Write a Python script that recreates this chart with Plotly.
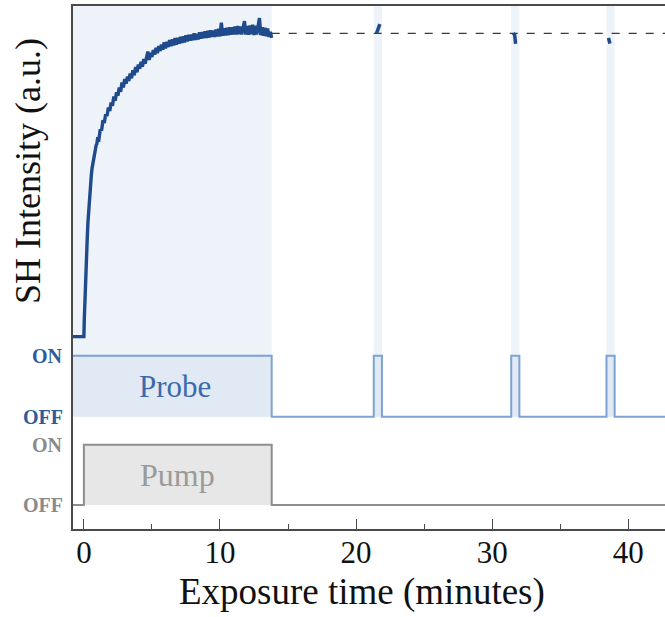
import plotly.graph_objects as go

# ---------------- data ----------------
time_min = [-0.8, -0.4, 0.0, 0.03, 0.06, 0.1, 0.15, 0.2, 0.25, 0.3, 0.35, 0.4, 0.45, 0.5,
            0.55, 0.6, 0.65, 0.7, 0.75, 0.8, 0.85, 0.9, 0.95, 1.0, 1.1, 1.2, 1.3, 1.4, 1.5,
            1.6, 1.7, 1.8, 1.9, 2.0, 2.1, 2.2, 2.3, 2.4, 2.5, 2.6, 2.7, 2.8, 2.9, 3.0, 3.1,
            3.2, 3.3, 3.4, 3.5, 3.6, 3.7, 3.8, 3.9, 4.0, 4.1, 4.2, 4.3, 4.4, 4.5, 4.6, 4.7,
            4.8, 4.9, 5.0, 5.1, 5.2, 5.3, 5.4, 5.5, 5.6, 5.7, 5.8, 5.9, 6.0, 6.1, 6.2, 6.3,
            6.4, 6.5, 6.6, 6.7, 6.8, 6.9, 7.0, 7.1, 7.2, 7.3, 7.4, 7.5, 7.6, 7.7, 7.8, 7.9,
            8.0, 8.1, 8.2, 8.3, 8.4, 8.5, 8.6, 8.7, 8.8, 8.9, 9.0, 9.1, 9.2, 9.3, 9.4, 9.5,
            9.6, 9.7, 9.8, 9.9, 10.0, 10.1, 10.2, 10.3, 10.4, 10.5, 10.6, 10.7, 10.8, 10.9,
            11.0, 11.1, 11.2, 11.3, 11.4, 11.5, 11.6, 11.7, 11.8, 11.9, 12.0, 12.1, 12.2,
            12.3, 12.4, 12.5, 12.6, 12.7, 12.8, 12.9, 13.0, 13.1, 13.2, 13.3, 13.4, 13.5,
            13.6, 13.7, 13.8]
sh_intensity = [0.003, 0.002, 0.003, 0.06, 0.11, 0.16, 0.22, 0.28, 0.33, 0.38, 0.42, 0.46,
                0.49, 0.51, 0.535, 0.556, 0.57, 0.587, 0.596, 0.612, 0.618, 0.632, 0.636,
                0.652, 0.650, 0.684, 0.680, 0.714, 0.705, 0.734, 0.728, 0.756, 0.745, 0.772,
                0.762, 0.792, 0.778, 0.806, 0.795, 0.822, 0.808, 0.838, 0.822, 0.850, 0.834,
                0.858, 0.843, 0.868, 0.852, 0.878, 0.862, 0.889, 0.872, 0.897, 0.884, 0.906,
                0.890, 0.915, 0.900, 0.924, 0.940, 0.912, 0.936, 0.922, 0.945, 0.930, 0.952,
                0.935, 0.958, 0.942, 0.963, 0.946, 0.970, 0.950, 0.972, 0.955, 0.978, 0.958,
                0.980, 0.960, 0.984, 0.963, 0.985, 0.966, 0.988, 0.968, 0.990, 0.970, 0.993,
                0.973, 0.995, 0.976, 0.996, 0.977, 1.000, 0.978, 0.998, 0.980, 1.003, 0.982,
                1.004, 0.984, 1.006, 0.985, 1.008, 0.986, 1.010, 0.988, 1.009, 0.988, 1.012,
                0.990, 1.015, 0.990, 1.035, 0.992, 1.016, 0.993, 1.018, 0.994, 1.020, 0.995,
                1.020, 0.996, 1.022, 0.996, 1.024, 0.997, 1.022, 0.996, 1.026, 1.040, 0.996,
                1.024, 0.995, 1.026, 0.997, 1.028, 0.994, 1.025, 0.996, 1.035, 1.050, 0.994,
                1.020, 0.992, 1.018, 0.990, 1.016, 0.988, 1.005, 0.985]

# short probe-only checks of the SH signal
check1_t = [21.5, 21.6, 21.7, 21.75]
check1_i = [1.000, 1.015, 1.028, 1.030]
check2_t = [31.55, 31.65, 31.7, 31.72]
check2_i = [1.000, 0.995, 0.975, 0.965]
check3_t = [38.55, 38.6, 38.65]
check3_i = [0.985, 0.972, 0.966]

plateau_level = 1.0
plateau_start = 13.8

# beam states (1 = ON, 0 = OFF), step-wise
probe_t = [-0.8, 13.8, 21.3, 21.9, 31.4, 32.0, 38.4, 39.0, 42.7]
probe_state = [1, 0, 1, 0, 1, 0, 1, 0, 0]
pump_t = [-0.8, 0.0, 13.8, 42.7]
pump_state = [0, 1, 0, 0]

x_ticks = [0, 10, 20, 30, 40]
state_labels = ["ON", "OFF"]
state_values = [1, 0]

# ---------------- style ----------------
FONT = "Liberation Serif"
CURVE = "#1f4a8b"
PROBE_LINE = "#7ba3d3"
PROBE_FILL = "#e1e9f4"
BAND = "#eef3f9"
PUMP_LINE = "#8e8e8e"
PUMP_FILL = "#e7e7e7"
AXIS = "#4a4a4a"
X_RANGE = [-0.8, 42.7]

fig = go.Figure()

# pale vertical bands while the probe is on
for i in range(len(probe_t) - 1):
    if probe_state[i] == 1:
        fig.add_shape(type="rect", xref="x", yref="y2", x0=probe_t[i], x1=probe_t[i + 1],
                      y0=0, y1=20, fillcolor=BAND, line_width=0, layer="below")

# probe lane
fig.add_trace(go.Scatter(x=probe_t, y=probe_state, yaxis="y2", mode="lines",
                         line=dict(shape="hv", color=PROBE_LINE, width=2),
                         fill="tozeroy", fillcolor=PROBE_FILL, hoverinfo="skip"))
# pump lane
fig.add_trace(go.Scatter(x=pump_t, y=pump_state, yaxis="y3", mode="lines",
                         line=dict(shape="hv", color=PUMP_LINE, width=2),
                         fill="tozeroy", fillcolor=PUMP_FILL, hoverinfo="skip"))

# dashed plateau reference
fig.add_trace(go.Scatter(x=[plateau_start, X_RANGE[1]], y=[plateau_level, plateau_level],
                         mode="lines", line=dict(color="#3a3a3a", width=1.2, dash="8px,9px"),
                         hoverinfo="skip"))

# SH intensity
fig.add_trace(go.Scatter(x=time_min, y=sh_intensity, mode="lines",
                         line=dict(color=CURVE, width=3.4)))
for tt, ii in [(check1_t, check1_i), (check2_t, check2_i), (check3_t, check3_i)]:
    fig.add_trace(go.Scatter(x=tt, y=ii, mode="lines",
                             line=dict(color=CURVE, width=3.5)))

annotations = []
# ON / OFF labels
for lab, val in zip(state_labels, state_values):
    annotations.append(dict(text="<b>%s</b>" % lab, xref="paper", x=0, xanchor="right",
                            xshift=-8, yref="y2", y=val, yanchor="middle", showarrow=False,
                            font=dict(family=FONT, size=20, color="#2f5b9a")))
    annotations.append(dict(text="<b>%s</b>" % lab, xref="paper", x=0, xanchor="right",
                            xshift=-8, yref="y3", y=val, yanchor="middle", showarrow=False,
                            font=dict(family=FONT, size=20, color="#8a8a8a")))
annotations.append(dict(text="Probe", x=6.7, y=0.5, yref="y2", showarrow=False,
                        font=dict(family=FONT, size=31, color="#3b69ad")))
annotations.append(dict(text="Pump", x=6.9, y=0.5, yref="y3", showarrow=False,
                        font=dict(family=FONT, size=32, color="#9a9a9a")))
annotations.append(dict(text="Exposure time (minutes)", xref="paper", x=0.488, yref="paper",
                        y=0, yshift=-63, xanchor="center", yanchor="middle", showarrow=False,
                        font=dict(family=FONT, size=37, color="#111111")))
annotations.append(dict(text="SH Intensity (a.u.)", xref="paper", x=0, xshift=-45,
                        yref="paper", y=0.6845, xanchor="center", yanchor="middle",
                        textangle=-90, showarrow=False,
                        font=dict(family=FONT, size=36, color="#111111")))

fig.update_layout(
    width=665, height=617,
    margin=dict(l=73, r=0, t=6, b=88),
    paper_bgcolor="white", plot_bgcolor="white",
    showlegend=False,
    annotations=annotations,
    xaxis=dict(range=X_RANGE, tickvals=x_ticks, ticks="inside", ticklen=10, tickwidth=1.3,
               tickcolor=AXIS, showline=True, linecolor=AXIS, linewidth=1.5, mirror=True,
               showgrid=False, zeroline=False, ticklabelstandoff=-5,
               tickfont=dict(family=FONT, size=31, color="#111111"),
               minor=dict(dtick=5, tick0=0, ticks="inside", ticklen=5, tickcolor=AXIS,
                          tickwidth=1.2, showgrid=False)),
    yaxis=dict(range=[-0.6295, 1.0897], showticklabels=False, ticks="", showgrid=False,
               zeroline=False, showline=True, linecolor=AXIS, linewidth=1.5),
    yaxis2=dict(range=[-1.841, 6.733], overlaying="y", visible=False, showgrid=False,
                zeroline=False),
    yaxis3=dict(range=[-0.398, 8.275], overlaying="y", visible=False, showgrid=False,
                zeroline=False),
)

fig.write_html("out.html", config={"displayModeBar": False},
               post_script="document.body.style.margin='0';"
                           "document.body.style.overflow='hidden';")
